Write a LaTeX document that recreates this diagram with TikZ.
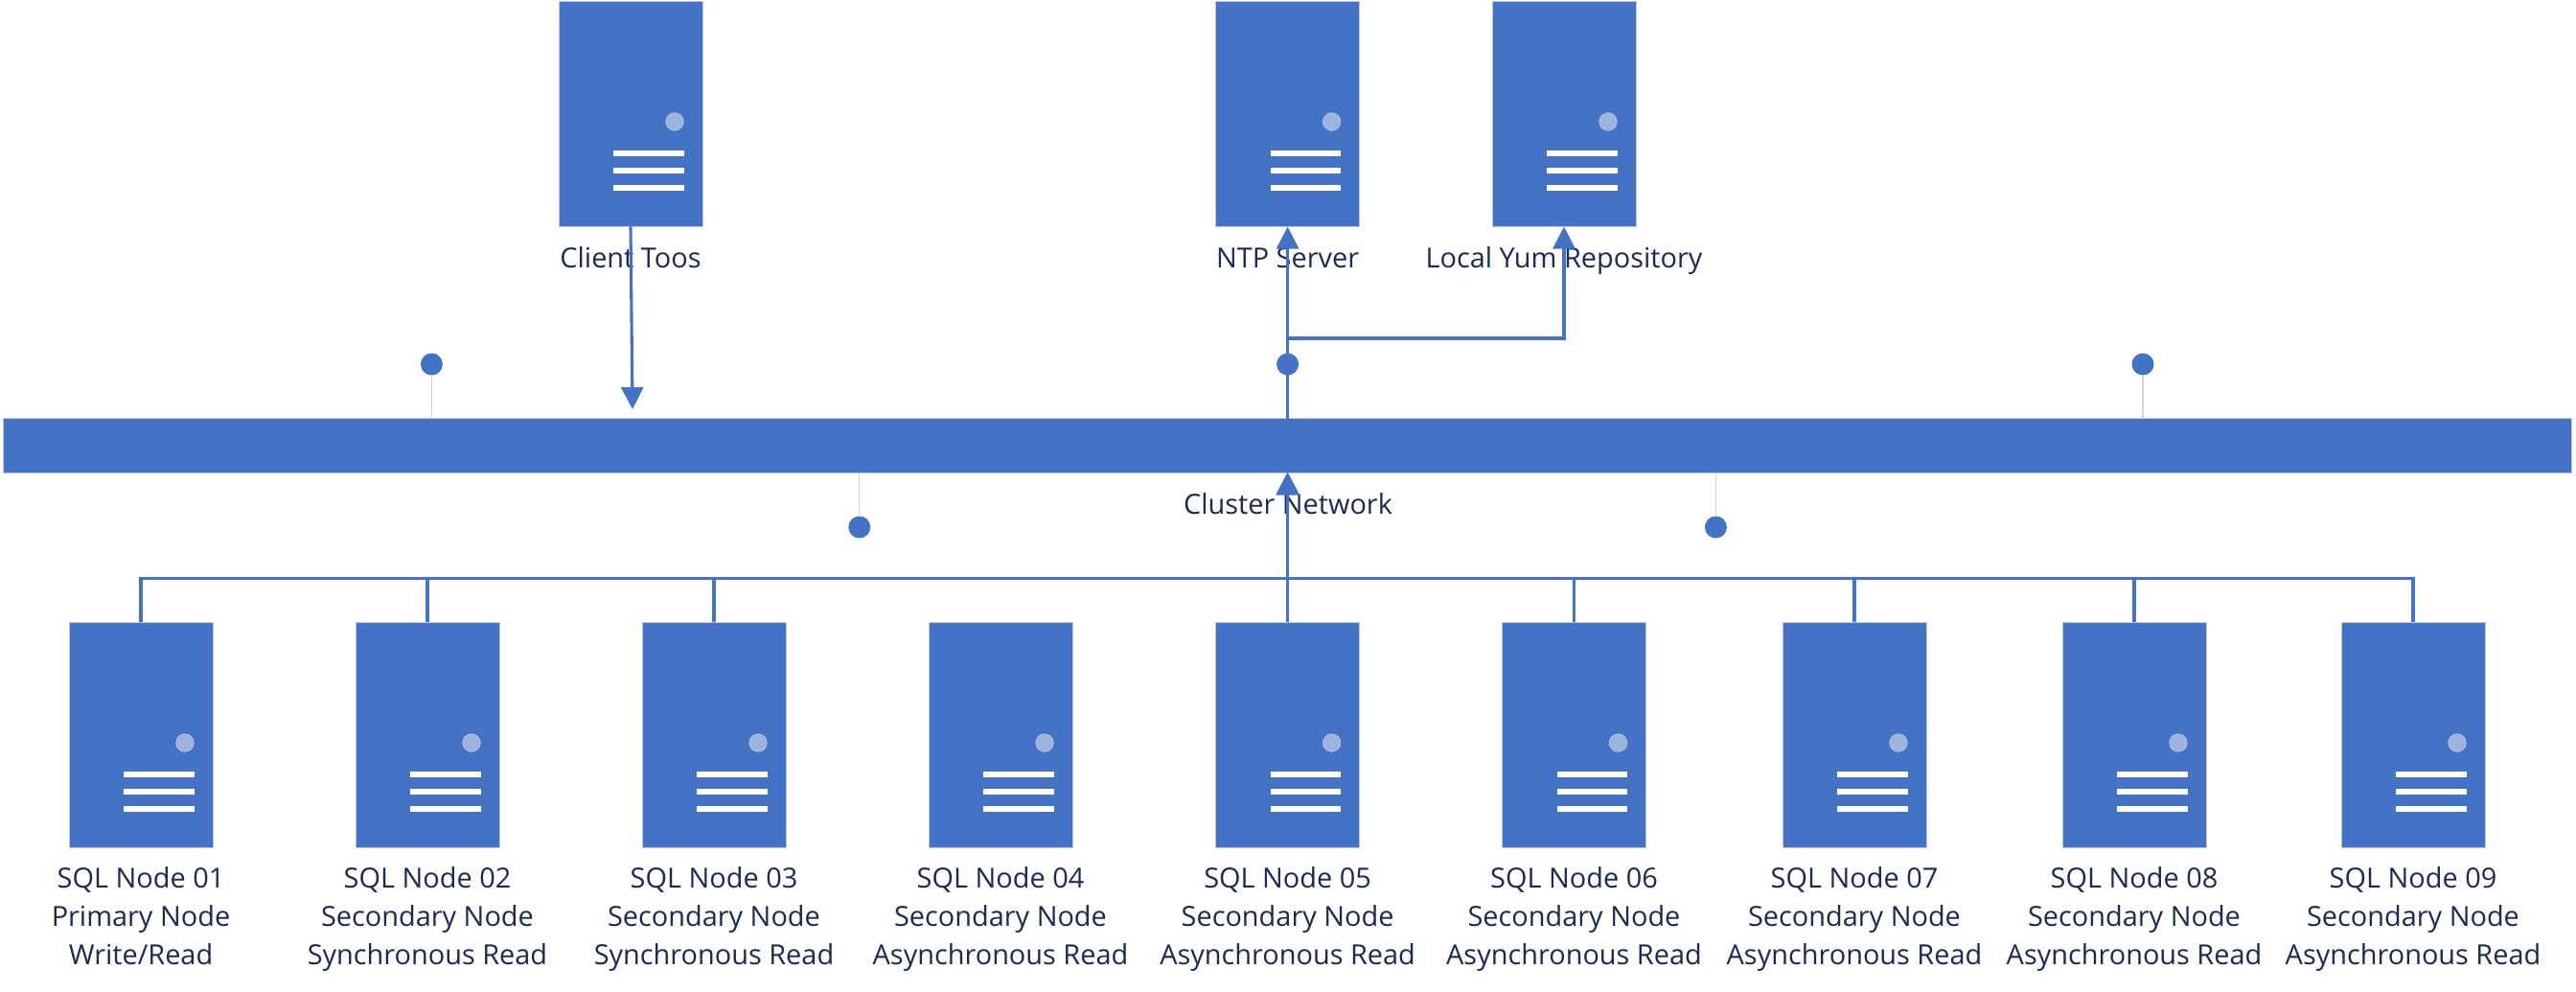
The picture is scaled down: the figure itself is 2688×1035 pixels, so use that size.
\documentclass[tikz,border=0pt]{standalone}
\usepackage{fontspec}
\setmainfont{Open Sans}
\usetikzlibrary{arrows.meta,calc}
\definecolor{srv}{HTML}{4472C4}
\definecolor{rim}{HTML}{BFC8D8}
\definecolor{led}{HTML}{9DB3DF}
\definecolor{ink}{HTML}{1B2A52}
\definecolor{lead}{HTML}{D4D4D4}
\tikzset{
  serverbox/.style={draw=rim,line width=0.8pt,fill=srv,minimum width=150pt,minimum height=235.5pt,inner sep=0pt,outer sep=0pt,anchor=north west},
  busbar/.style={draw=rim,line width=0.8pt,fill=srv,minimum width=2680pt,minimum height=56.5pt,inner sep=0pt,outer sep=0pt,anchor=north west},
  dot/.style={circle,fill=srv,minimum size=23pt,inner sep=0pt,outer sep=0pt},
  caption/.style={text=ink,font=\fontsize{28.9}{40}\selectfont,align=center,inner sep=0pt,outer sep=0pt},
  link/.style={draw=srv,line width=3.1pt},
  arrowlink/.style={link,-{Triangle[length=23pt,width=23pt]}},
  leader/.style={draw=lead,line width=1.2pt},
}
\newcommand{\serverunit}[3]{%
  \node[serverbox] (#1) at (#2,#3) {};
  \begin{scope}[shift={(#2,#3)}]
    \fill[led,draw=rim,line width=0.6pt] (121,126) circle[radius=9.3pt];
    \fill[white] (57,156) rectangle (130.5,162);
    \fill[white] (57,174) rectangle (130.5,180);
    \fill[white] (57,192) rectangle (130.5,198);
  \end{scope}}
\begin{document}
\begin{tikzpicture}[x=1pt,y=-1pt]
\useasboundingbox (0,0) rectangle (2688,1035);
% servers
\serverunit{client}{583}{1}
\serverunit{ntp}{1268.6}{1}
\serverunit{yum}{1557}{1}
\serverunit{s1}{72}{649}
\serverunit{s2}{371}{649}
\serverunit{s3}{670}{649}
\serverunit{s4}{969}{649}
\serverunit{s5}{1268.6}{649}
\serverunit{s6}{1567.5}{649}
\serverunit{s7}{1860}{649}
\serverunit{s8}{2152}{649}
\serverunit{s9}{2443}{649}
\node[busbar] (bus) at (3.5,436.7) {};
% captions
\node[caption,anchor=base] (lclient) at (658,279) {Client Toos};
\node[caption,anchor=base] (lntp) at (1343.6,279) {NTP Server};
\node[caption,anchor=base] (lyum) at (1632,279) {Local Yum Repository};
\node[caption,anchor=base] (lbus) at (1344,536) {Cluster Network};
\foreach \n/\t/\b in {s1/{SQL Node 01}/{Primary Node\\Write/Read},
  s2/{SQL Node 02}/{Secondary Node\\Synchronous Read},
  s3/{SQL Node 03}/{Secondary Node\\Synchronous Read},
  s4/{SQL Node 04}/{Secondary Node\\Asynchronous Read},
  s5/{SQL Node 05}/{Secondary Node\\Asynchronous Read},
  s6/{SQL Node 06}/{Secondary Node\\Asynchronous Read},
  s7/{SQL Node 07}/{Secondary Node\\Asynchronous Read},
  s8/{SQL Node 08}/{Secondary Node\\Asynchronous Read},
  s9/{SQL Node 09}/{Secondary Node\\Asynchronous Read}}{
  \node[caption,anchor=north] (l\n) at ($(\n.south)+(0,20)$) {\t\\\b};
}
% leaders and dots
\node[dot] (d1) at (450.4,380) {};
\node[dot] (d2) at (1343.6,380) {};
\node[dot] (d3) at (2236,380) {};
\node[dot] (d4) at (896.8,550) {};
\node[dot] (d5) at (1790.4,550) {};
\draw[leader] (d1) -- (bus.north -| d1);
\draw[leader] (d3) -- (bus.north -| d3);
\draw[leader] (d4) -- (bus.south -| d4);
\draw[leader] (d5) -- (bus.south -| d5);
% connectors
\coordinate (cend) at (660,427);
\draw[arrowlink] (client.south) -- (cend);
\coordinate (split) at (1343.6,353);
\coordinate (hub) at (1343.6,603.7);
\draw[arrowlink] (bus.north -| ntp.south) -- (ntp.south);
\draw[arrowlink] (bus.north -| ntp.south) -- (split) -| (yum.south);
\foreach \n in {s1,s2,s3,s6,s7,s8,s9}{
  \draw[arrowlink] (\n.north) |- (hub) -- (bus.south -| hub);
}
\draw[arrowlink] (s5.north) -- (bus.south -| s5.north);
\end{tikzpicture}
\end{document}
